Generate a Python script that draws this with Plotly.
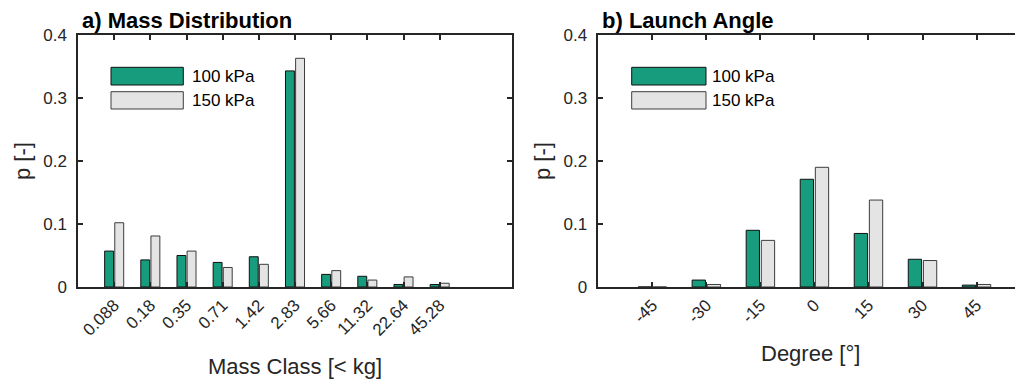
import plotly.graph_objects as go

# ---- data ----
mass_classes = ["0.088", "0.18", "0.35", "0.71", "1.42", "2.83", "5.66", "11.32", "22.64", "45.28"]
mass_100 = [0.057, 0.043, 0.050, 0.039, 0.048, 0.343, 0.020, 0.017, 0.004, 0.004]
mass_150 = [0.102, 0.081, 0.057, 0.031, 0.036, 0.363, 0.026, 0.011, 0.016, 0.006]

angles = ["-45", "-30", "-15", "0", "15", "30", "45"]
angle_100 = [0.0, 0.011, 0.090, 0.171, 0.085, 0.044, 0.003]
angle_150 = [0.0, 0.004, 0.074, 0.190, 0.138, 0.042, 0.004]

series_names = ["100 kPa", "150 kPa"]
y_ticks = [0, 0.1, 0.2, 0.3, 0.4]

GREEN = "#179c7d"
GREY = "#e3e4e3"
AX = "#262626"
FONT = "Liberation Sans, Arial, Helvetica, sans-serif"

# the page body has an 8px margin; work in window pixels and shift
OFF = 8
W, H = 1023 - OFF, 380 - OFF
MT = 35 - OFF
MB = 380 - 287
PH = H - MT - MB

mass_x = list(range(1, len(mass_classes) + 1))
angle_x = list(range(1, len(angles) + 1))

fig = go.Figure()

def add_bars(x, y, name, color, edge, xa, ya):
    fig.add_trace(go.Bar(
        x=x, y=y, name=name, xaxis=xa, yaxis=ya,
        marker=dict(color=color, line=dict(color=edge, width=1)),
        showlegend=False, offsetgroup=name,
    ))

add_bars(mass_x, mass_100, series_names[0], GREEN, "#111111", "x", "y")
add_bars(mass_x, mass_150, series_names[1], GREY, "#3c3c3c", "x", "y")
add_bars(angle_x, angle_100, series_names[0], GREEN, "#111111", "x2", "y2")
add_bars(angle_x, angle_150, series_names[1], GREY, "#3c3c3c", "x2", "y2")

axis_common = dict(
    showline=True, linecolor=AX, linewidth=1.5,
    ticks="inside", ticklen=5, tickwidth=1.5, tickcolor=AX,
    showgrid=False, zeroline=False,
    tickfont=dict(family=FONT, size=17, color=AX),
)

def px_x(p):
    # window pixel x -> paper x
    return (p - OFF) / W

def py(p):
    # window pixel y (from top) -> paper y
    return (380 - MB - p) / PH

title_font = dict(family=FONT, size=22, color=AX)

fig.update_layout(
    width=W, height=H,
    margin=dict(l=0, r=0, t=MT, b=MB),
    paper_bgcolor="white", plot_bgcolor="white",
    barmode="group", bargap=0.44, bargroupgap=0.12,
    font=dict(family=FONT, color=AX),
    xaxis=dict(
        domain=[px_x(78), px_x(512)], range=[0, 12],
        tickvals=mass_x, ticktext=mass_classes, tickangle=-45,
        mirror="ticks", anchor="y",
        title=dict(text="Mass Class [< kg]", font=title_font, standoff=20),
        **axis_common,
    ),
    yaxis=dict(
        domain=[0, 1], range=[0, 0.4], tickvals=y_ticks,
        mirror="ticks", anchor="x", ticklabelstandoff=6,
        **axis_common,
    ),
    xaxis2=dict(
        domain=[px_x(598.3), 1.0], range=[0, 7.86],
        tickvals=angle_x, ticktext=angles, tickangle=-45,
        mirror="ticks", anchor="y2",
        title=dict(text="Degree [°]", font=title_font, standoff=20),
        **axis_common,
    ),
    yaxis2=dict(
        domain=[0, 1], range=[0, 0.4], tickvals=y_ticks,
        anchor="x2", ticklabelstandoff=6,
        **axis_common,
    ),
)

shapes = []
annotations = []

# panel titles
for text, x0 in [("a) Mass Distribution", 80), ("b) Launch Angle", 600)]:
    annotations.append(dict(
        text=f"<b>{text}</b>", xref="paper", yref="paper",
        x=px_x(x0), y=py(21), xanchor="left", yanchor="middle",
        showarrow=False, font=dict(family=FONT, size=22, color="black"),
    ))

# y-axis titles
for xc in (22, 542):
    annotations.append(dict(
        text="p [-]", xref="paper", yref="paper",
        x=px_x(xc), y=py(161), xanchor="center", yanchor="middle",
        textangle=-90, showarrow=False, font=title_font,
    ))

# legends (large swatches as in the original)
legend_specs = [(111, 183.3, 190), (631.7, 706, 710)]
rows = [(67.3, 85, GREEN, "#111111"), (91.7, 109, GREY, "#3c3c3c")]
for (lx0, lx1, tx) in legend_specs:
    for (y0, y1, col, edge), name in zip(rows, series_names):
        shapes.append(dict(
            type="rect", xref="paper", yref="paper",
            x0=px_x(lx0), x1=px_x(lx1), y0=py(y1), y1=py(y0),
            fillcolor=col, line=dict(color=edge, width=1),
        ))
        annotations.append(dict(
            text=name, xref="paper", yref="paper",
            x=px_x(tx), y=py((y0 + y1) / 2), xanchor="left", yanchor="middle",
            showarrow=False, font=dict(family=FONT, size=17, color="black"),
        ))

fig.update_layout(shapes=shapes, annotations=annotations)

fig.write_html("out.html")
